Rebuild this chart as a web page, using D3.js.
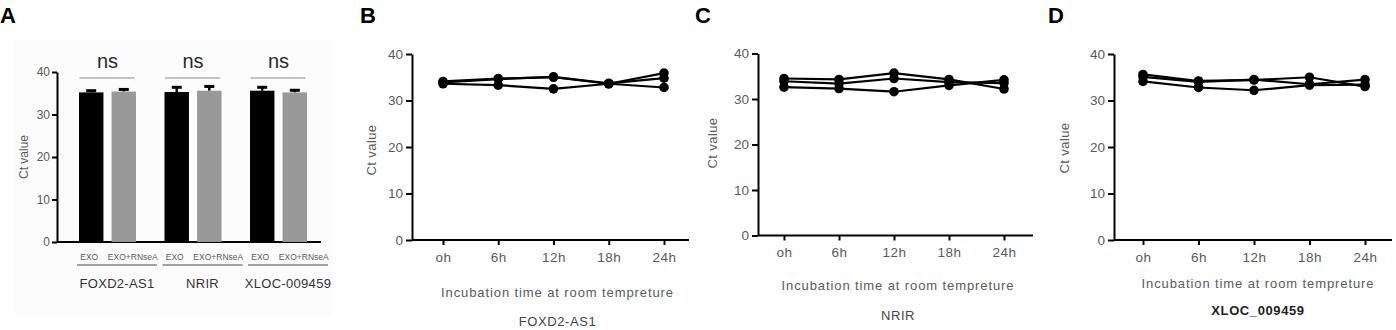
<!DOCTYPE html>
<html>
<head>
<meta charset="utf-8">
<script src="https://cdn.jsdelivr.net/npm/d3@7"></script>
<style>
  body { margin: 0; background: #fff; }
  svg { display: block; font-family: Arial, "Liberation Sans", sans-serif; }
</style>
</head>
<body>
<div id="fig"></div>
<script>
// ---- data ----
const ctTicks = [0, 10, 20, 30, 40];
const timeLabels = ["oh", "6h", "12h", "18h", "24h"];

// panel A : bars (mean Ct) and upward error bars
const barGroups = ["FOXD2-AS1", "NRIR", "XLOC-009459"];
const barTreatments = ["EXO", "EXO+RNseA"];
const barMeans = [[35.2, 35.4], [35.3, 35.6], [35.6, 35.2]];
const barErrors = [[0.4, 0.5], [1.1, 1.0], [0.8, 0.5]];
const sigLabels = ["ns", "ns", "ns"];

// panels B-D : three replicates over incubation time
const foxd2Series = [
  [34.1, 34.7, 35.0, 33.6, 35.9],
  [33.9, 34.6, 35.1, 33.7, 34.8],
  [33.6, 33.3, 32.5, 33.6, 32.8]
];
const nrirSeries = [
  [34.5, 34.3, 35.7, 34.3, 32.2],
  [33.9, 33.4, 34.5, 33.7, 33.5],
  [32.6, 32.3, 31.6, 33.0, 34.2]
];
const xlocSeries = [
  [35.6, 34.2, 34.4, 35.0, 33.0],
  [35.1, 34.0, 34.5, 33.5, 34.5],
  [34.1, 32.8, 32.2, 33.3, 33.4]
];

const W = 1396, H = 330;
const grey = "#5a5a5a";

var svg = d3.select("#fig").append("svg")
    .attr("width", W)
    .attr("height", H);

// panel letters
function letter(txt, x, y) {
  svg.append("text")
    .attr("x", x).attr("y", y)
    .style("font-size", "22px")
    .style("font-weight", "bold")
    .style("fill", "#000")
    .text(txt);
}
letter("A", 0, 23);
letter("B", 360, 23);
letter("C", 695, 23);
letter("D", 1048, 23);

function styleAxis(g, fs) {
  g.select(".domain").attr("stroke", "#000").attr("stroke-width", 2);
  g.selectAll(".tick line").attr("stroke", "#000").attr("stroke-width", 2);
  g.selectAll(".tick text").style("fill", grey).style("font-size", fs + "px")
    .style("font-family", "Arial, 'Liberation Sans', sans-serif");
}

// ================= panel A =================
svg.append("rect")
  .attr("x", 13).attr("y", 40).attr("width", 320).attr("height", 275)
  .attr("fill", "#fcfcfc");

var yA = d3.scaleLinear().domain([0, 40]).range([242, 72]);
var gx = d3.scaleBand().domain(barGroups).range([79, 335.5]);
var bx = d3.scaleBand().domain(barTreatments).range([0, 57]).paddingInner(0.25);

var gA = svg.append("g");

var yAxisA = gA.append("g")
  .attr("transform", "translate(57,0)")
  .call(d3.axisLeft(yA).tickValues(ctTicks).tickSize(5).tickSizeOuter(0).tickPadding(2));
styleAxis(yAxisA, 12);

gA.append("line")
  .attr("x1", 57).attr("x2", 321)
  .attr("y1", yA(0)).attr("y2", yA(0))
  .attr("stroke", "#000").attr("stroke-width", 2);

gA.append("text")
  .attr("transform", "translate(28,157) rotate(-90)")
  .attr("text-anchor", "middle")
  .style("font-size", "12px")
  .style("fill", grey)
  .text("Ct value");

barGroups.forEach(function(grp, gi) {
  var x0 = gx(grp);
  barTreatments.forEach(function(tr, ti) {
    var m = barMeans[gi][ti], e = barErrors[gi][ti];
    var bxl = x0 + bx(tr), bw = bx.bandwidth(), cx = bxl + bw / 2;
    // error bar (drawn first so bar covers its lower part)
    gA.append("line")
      .attr("x1", cx).attr("x2", cx)
      .attr("y1", yA(m)).attr("y2", yA(m + e))
      .attr("stroke", "#000").attr("stroke-width", 2.5);
    gA.append("line")
      .attr("x1", cx - 5).attr("x2", cx + 5)
      .attr("y1", yA(m + e)).attr("y2", yA(m + e))
      .attr("stroke", "#000").attr("stroke-width", 3);
    gA.append("rect")
      .attr("x", bxl).attr("y", yA(m))
      .attr("width", bw).attr("height", yA(0) - yA(m))
      .attr("fill", ti === 0 ? "#000" : "#999");
    gA.append("text")
      .attr("x", cx + (ti === 0 ? -2 : 9)).attr("y", 260)
      .attr("text-anchor", "middle")
      .style("font-size", "8.5px")
      .style("fill", grey)
      .text(tr);
  });
  var gc = x0 + 28.5;
  // significance bracket
  gA.append("line")
    .attr("x1", gc - 28).attr("x2", gc + 27)
    .attr("y1", 78).attr("y2", 78)
    .attr("stroke", "#888").attr("stroke-width", 1);
  gA.append("text")
    .attr("x", gc).attr("y", 68)
    .attr("text-anchor", "middle")
    .style("font-size", "20px")
    .style("fill", "#2a2a2a")
    .text(sigLabels[gi]);
  // group underline + name
  gA.append("line")
    .attr("x1", x0 - 2).attr("x2", x0 + 78)
    .attr("y1", 265).attr("y2", 265)
    .attr("stroke", "#444").attr("stroke-width", 1.2);
  gA.append("text")
    .attr("x", x0 + 38).attr("y", 288)
    .attr("text-anchor", "middle")
    .style("font-size", "13px")
    .style("letter-spacing", "0.3px")
    .style("fill", "#333")
    .text(grp);
});

// ================= panels B-D =================
var linePanels = [
  {series: foxd2Series, name: "FOXD2-AS1", bold: false,
   ax: 412, y0: 240, y40: 54, xFirst: 443, xLast: 664, xEnd: 689,
   tickY: 263, titleY: 297, nameY: 326, ylabX: 376, ylabY: 150},
  {series: nrirSeries, name: "NRIR", bold: false,
   ax: 758, y0: 235.5, y40: 53.5, xFirst: 784, xLast: 1004, xEnd: 1033,
   tickY: 260, titleY: 290, nameY: 320, ylabX: 717, ylabY: 143},
  {series: xlocSeries, name: "XLOC_009459", bold: true,
   ax: 1114, y0: 240, y40: 54, xFirst: 1143, xLast: 1365, xEnd: 1392,
   tickY: 263, titleY: 288, nameY: 315, ylabX: 1069, ylabY: 148}
];

linePanels.forEach(function(p) {
  var g = svg.append("g");
  var y = d3.scaleLinear().domain([0, 40]).range([p.y0, p.y40]);
  var x = d3.scalePoint().domain(timeLabels).range([p.xFirst, p.xLast]);

  var ya = g.append("g")
    .attr("transform", "translate(" + p.ax + ",0)")
    .call(d3.axisLeft(y).tickValues(ctTicks).tickSize(6).tickSizeOuter(0).tickPadding(3));
  styleAxis(ya, 13.5);

  var xa = g.append("g")
    .attr("transform", "translate(0," + p.y0 + ")")
    .call(d3.axisBottom(x).tickSize(5).tickPadding(7));
  styleAxis(xa, 13.5);
  xa.select(".domain").remove();
  xa.selectAll(".tick text").style("letter-spacing", "0.5px");

  g.append("line")
    .attr("x1", p.ax).attr("x2", p.xEnd)
    .attr("y1", p.y0).attr("y2", p.y0)
    .attr("stroke", "#000").attr("stroke-width", 2);

  g.append("text")
    .attr("transform", "translate(" + p.ylabX + "," + p.ylabY + ") rotate(-90)")
    .attr("text-anchor", "middle")
    .style("font-size", "13px")
    .style("letter-spacing", "0.4px")
    .style("fill", grey)
    .text("Ct value");

  var mid = (p.xFirst + p.xLast) / 2 + 4;
  g.append("text")
    .attr("x", mid).attr("y", p.titleY)
    .attr("text-anchor", "middle")
    .style("font-size", "13px")
    .style("letter-spacing", "0.9px")
    .style("fill", grey)
    .text("Incubation time at room tempreture");

  g.append("text")
    .attr("x", mid).attr("y", p.nameY)
    .attr("text-anchor", "middle")
    .style("font-size", "13px")
    .style("letter-spacing", "0.6px")
    .style("font-weight", p.bold ? "bold" : "normal")
    .style("fill", p.bold ? "#222" : "#444")
    .text(p.name);

  var line = d3.line()
    .x(function(d, i) { return x(timeLabels[i]); })
    .y(function(d) { return y(d); });

  p.series.forEach(function(s) {
    g.append("path")
      .datum(s)
      .attr("d", line)
      .attr("fill", "none")
      .attr("stroke", "#000")
      .attr("stroke-width", 2.2);
  });
  p.series.forEach(function(s) {
    g.selectAll(null)
      .data(s)
      .enter()
      .append("circle")
      .attr("cx", function(d, i) { return x(timeLabels[i]); })
      .attr("cy", function(d) { return y(d); })
      .attr("r", 4.8)
      .attr("fill", "#000");
  });
});
</script>
</body>
</html>
